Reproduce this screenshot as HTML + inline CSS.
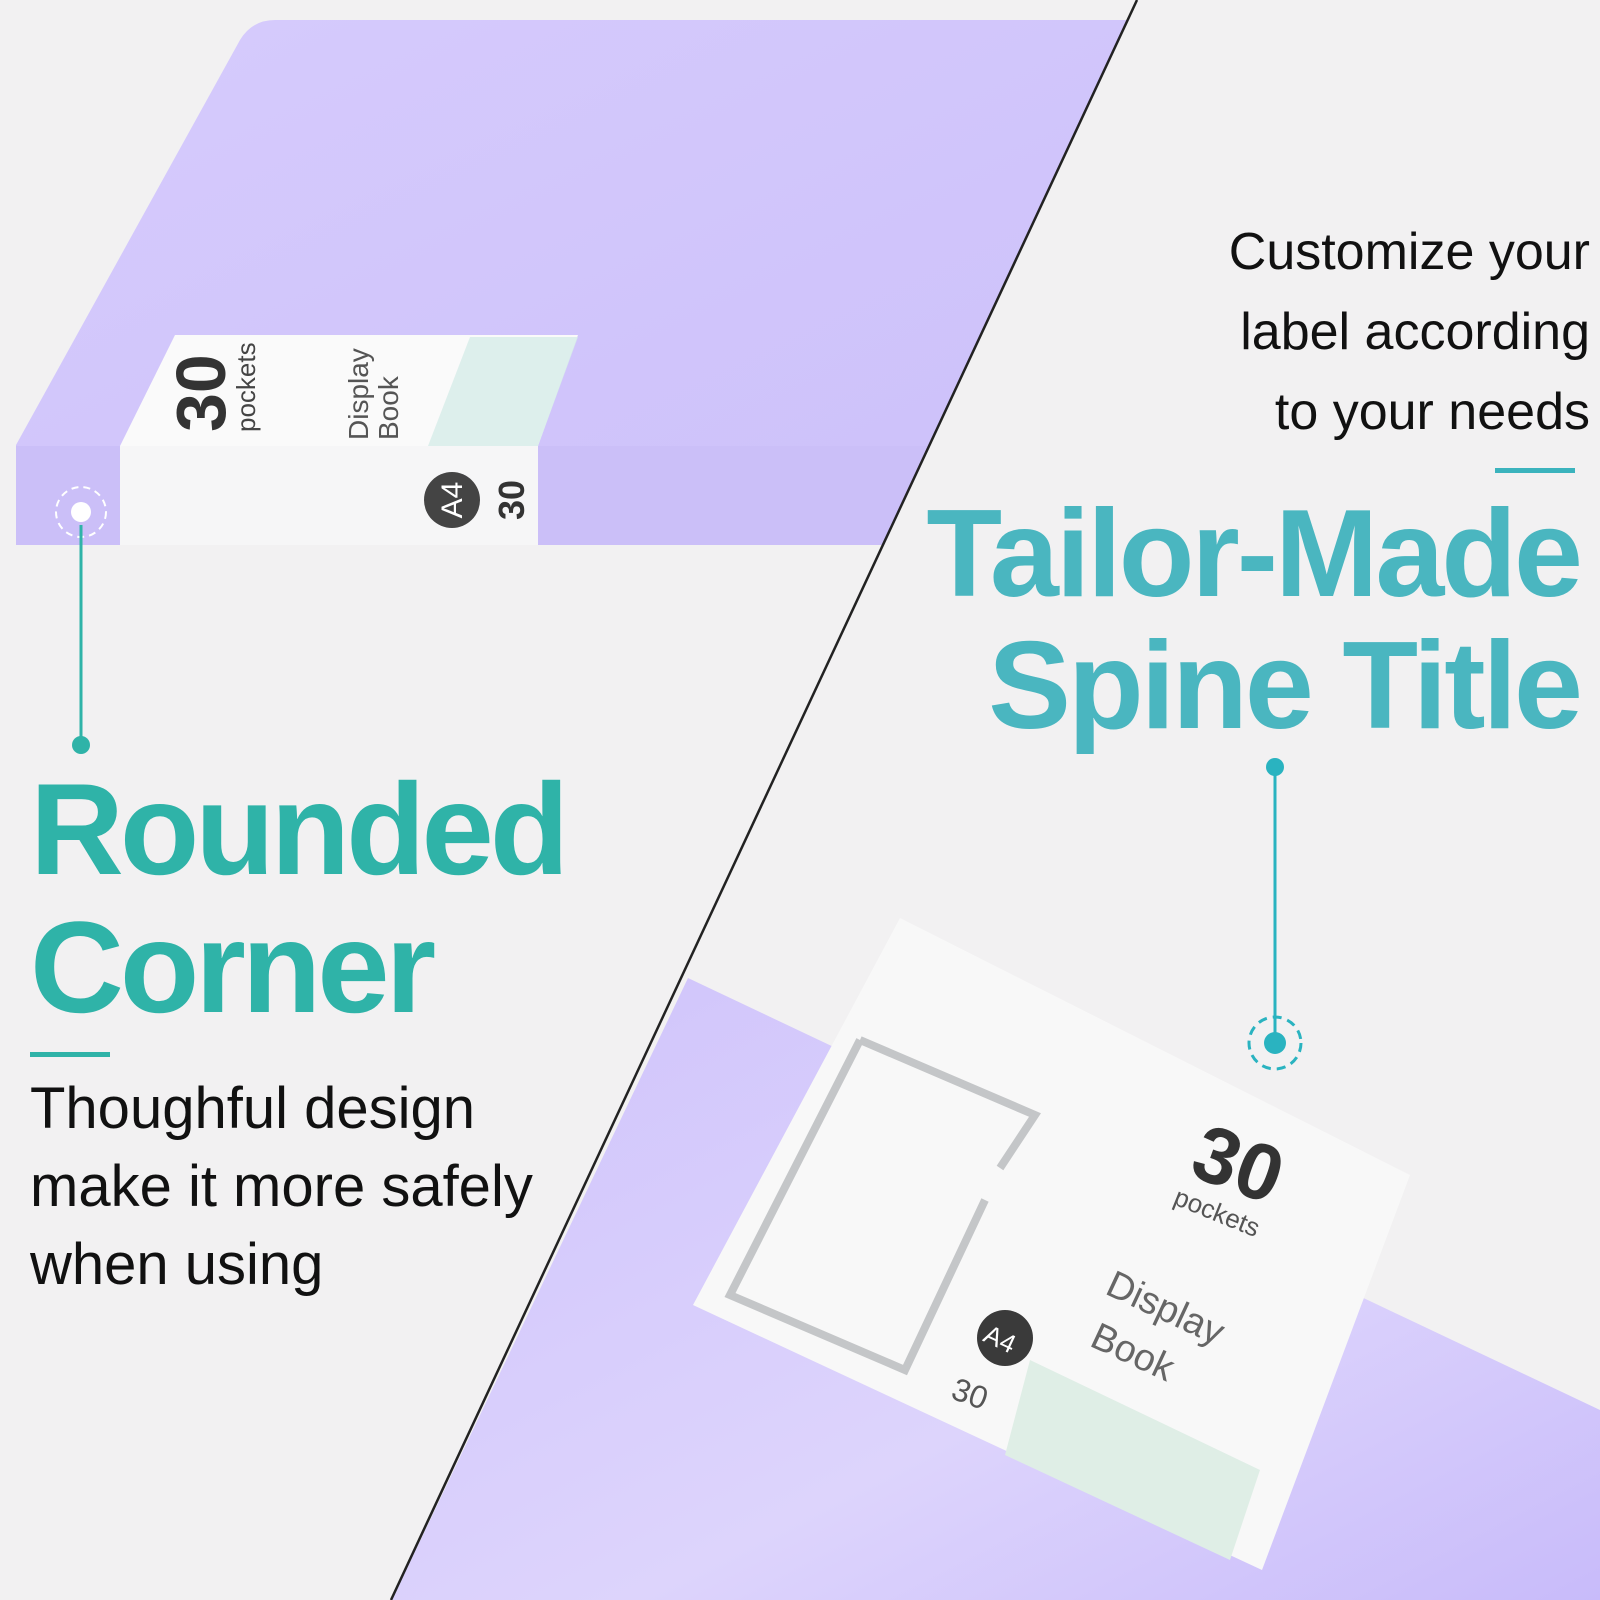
<!DOCTYPE html>
<html><head><meta charset="utf-8"><style>
body{margin:0;width:1600px;height:1600px;overflow:hidden;background:#f2f1f2;font-family:"Liberation Sans",sans-serif;position:relative}
.t{position:absolute;white-space:nowrap}
</style></head><body>
<svg width="1600" height="1600" style="position:absolute;left:0;top:0">
<defs>
<linearGradient id="g1" x1="0" y1="0" x2="1" y2="1"><stop offset="0" stop-color="#d6cbfc"/><stop offset="1" stop-color="#ccc0fa"/></linearGradient>
<linearGradient id="g2" x1="0" y1="0" x2="1" y2="1"><stop offset="0" stop-color="#cfc3fb"/><stop offset="0.6" stop-color="#ddd4fc"/><stop offset="1" stop-color="#c8bbfa"/></linearGradient>
</defs>
<path d="M275 20 L1128 20 L883 545 L16 545 L16 445 L240 40 Q252 20 275 20 Z" fill="url(#g1)"/>
<path d="M16 446 L930 446 L883 545 L16 545 Z" fill="#cbbff8"/>
<path d="M120 446 L538 446 L538 545 L120 545 Z" fill="#f6f6f7"/>
<path d="M175 335 L578 335 L538 446 L120 446 Z" fill="#fafafa"/>
<path d="M470 337 L578 337 L538 446 L428 446 Z" fill="#d6ece8" opacity="0.8"/>
<g transform="translate(225,432) rotate(-90)"><text x="0" y="0" font-size="70" font-weight="bold" fill="#333">30</text><text x="0" y="30" font-size="26" fill="#444">pockets</text></g>
<g transform="translate(390,440) rotate(-90)"><text x="0" y="-22" font-size="28" fill="#555">Display</text><text x="0" y="8" font-size="28" fill="#555">Book</text></g>
<circle cx="81" cy="512" r="25" fill="none" stroke="#fff" stroke-width="2" stroke-dasharray="7 5"/>
<circle cx="81" cy="512" r="10" fill="#fff"/>
<line x1="81" y1="525" x2="81" y2="745" stroke="#2fb3a8" stroke-width="3"/>
<circle cx="81" cy="745" r="9" fill="#2fb3a8"/>
<path d="M688 978 L1600 1410 L1600 1600 L392 1600 Z" fill="url(#g2)"/>
<path d="M900 918 L1410 1175 L1262 1570 L693 1305 Z" fill="#f8f8f8"/>
<path d="M860 1040 L1035 1115 L1000 1168 M985 1200 L905 1370 L730 1295 L860 1040" fill="none" stroke="#c4c6c8" stroke-width="8"/>
<path d="M1030 1360 L1260 1470 L1230 1560 L1005 1455 Z" fill="#dfeee6"/>
<circle cx="1005" cy="1338" r="28" fill="#3a3a3a"/>
<text x="985" y="1350" font-size="26" fill="#fff" transform="rotate(25 1005 1338)">A4</text>
<text x="1195" y="1190" font-size="80" font-weight="bold" fill="#333" transform="rotate(20 1235 1160)">30</text>
<text x="1170" y="1215" font-size="26" fill="#555" transform="rotate(22 1200 1215)">pockets</text>
<text x="1100" y="1310" font-size="38" fill="#666" transform="rotate(25 1140 1310)">Display</text>
<text x="1085" y="1360" font-size="38" fill="#666" transform="rotate(25 1120 1360)">Book</text>
<text x="950" y="1405" font-size="32" fill="#555" transform="rotate(20 970 1400)">30</text>
<circle cx="452" cy="500" r="28" fill="#444"/>
<g transform="translate(462,500) rotate(-90)"><text x="0" y="0" font-size="30" fill="#fff" text-anchor="middle">A4</text></g>
<g transform="translate(524,500) rotate(-90)"><text x="0" y="0" font-size="36" font-weight="bold" fill="#333" text-anchor="middle">30</text></g>
<line x1="1137" y1="0" x2="391" y2="1600" stroke="#222" stroke-width="2.5"/>
<circle cx="1275" cy="1043" r="26" fill="none" stroke="#2ab3c0" stroke-width="3" stroke-dasharray="9 6"/>
<circle cx="1275" cy="1043" r="11" fill="#2ab3c0"/>
<line x1="1275" y1="767" x2="1275" y2="1043" stroke="#2ab3c0" stroke-width="3"/>
<circle cx="1275" cy="767" r="9" fill="#2ab3c0"/>
<rect x="1495" y="468" width="80" height="5" fill="#3bb3bd"/>
<rect x="30" y="1052" width="80" height="5" fill="#2fb3a8"/>
</svg>
<div class="t" style="right:10px;top:212px;text-align:right;font-size:52px;line-height:80px;color:#111">Customize your<br>label according<br>to your needs</div>
<div class="t" style="right:20px;top:488px;text-align:right;font-size:124px;line-height:132px;font-weight:bold;color:#4ab6c0;letter-spacing:-3px">Tailor-Made<br>Spine Title</div>
<div class="t" style="left:30px;top:760px;font-size:130px;line-height:138px;font-weight:bold;color:#2fb3a8;letter-spacing:-4px">Rounded<br>Corner</div>
<div class="t" style="left:30px;top:1070px;font-size:58px;line-height:78px;color:#111">Thoughful design<br>make it more safely<br>when using</div>
</body></html>
